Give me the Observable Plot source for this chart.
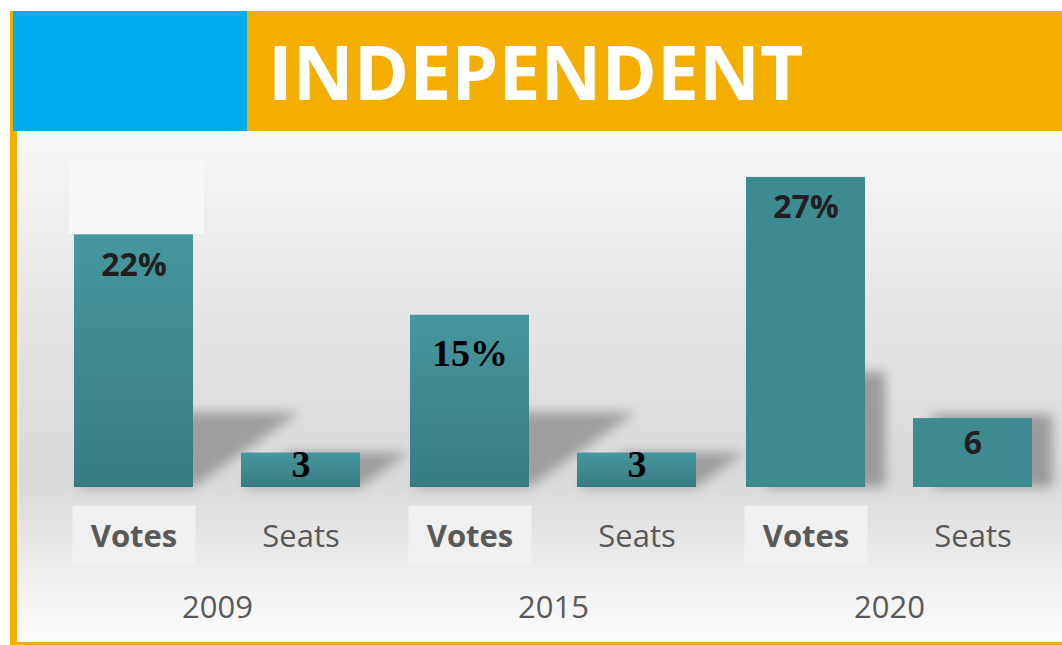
<!DOCTYPE html>
<html>
<head>
<meta charset="utf-8">
<script src="https://cdn.jsdelivr.net/npm/d3@7"></script>
<script src="https://cdn.jsdelivr.net/npm/@observablehq/plot@0.6"></script>
<style>
  html, body { margin: 0; padding: 0; background: #ffffff; }
  #wrap { position: relative; width: 1062px; height: 645px; overflow: hidden; font-family: 'Open Sans', sans-serif; }
  #hdrOrange { position: absolute; left: 10px; top: 11px; width: 1052px; height: 120px; background: #F4AE00; }
  #hdrBlue { position: absolute; left: 13px; top: 11px; width: 234px; height: 120px; background: #00AEEF; }
  #title { position: absolute; left: 268px; top: 11px; height: 120px; line-height: 120px; font-family: 'Open Sans', sans-serif; font-weight: 700; font-size: 75px; color: #ffffff; white-space: nowrap; }
  #panel { position: absolute; left: 10px; top: 131px; width: 1052px; height: 514px; box-sizing: border-box;
    border-left: 7px solid #F4AE00; border-bottom: 3px solid #F4AE00; box-shadow: inset 2px 0 0 #ffffff;
    background: linear-gradient(to bottom, #f8f8f8 0%, #e6e6e6 33%, #d9d9d9 68%, #fdfdfd 100%); }
  #stray { position: absolute; left: 69px; top: 161px; width: 135px; height: 90px; background: #f8f8f8; }
  #chart { position: absolute; left: 0; top: 131px; width: 1062px; }
</style>
</head>
<body>
<div id="wrap">
  <div id="hdrOrange"></div>
  <div id="hdrBlue"></div>
  <div id="title">INDEPENDENT</div>
  <div id="panel"></div>
  <div id="stray"></div>
  <div id="chart"></div>
</div>
<script>
// ---- data ----
const years = ["2009", "2015", "2020"];
const types = ["Votes", "Seats"];
const votes = [22, 15, 27];
const seats = [3, 3, 6];
const voteLabels = ["22%", "15%", "27%"];
const seatLabels = ["3", "3", "6"];

const data = years.flatMap((y, i) => [
  {year: y, type: "Votes", value: votes[i], label: voteLabels[i]},
  {year: y, type: "Seats", value: seats[i], label: seatLabels[i]}
]);

// label font groups (presentation only)
const serifKeys = new Set(["2015|Votes", "2009|Seats", "2015|Seats"]);
const isSerif = d => serifKeys.has(d.year + "|" + d.type);
const older = data.filter(d => d.year !== "2020");
const newer = data.filter(d => d.year === "2020");

const SKEW_FILL = "#8a8a8b", DROP_FILL = "#8a8a8c", VOTES_FILL = "#595958";

const plot = Plot.plot({
  width: 1062,
  height: 510,
  marginLeft: 49,
  marginRight: 5,
  marginTop: 0,
  marginBottom: 154,
  style: {background: "transparent", fontFamily: "'Open Sans', sans-serif", overflow: "visible"},
  fx: {domain: years, padding: 0, axis: null},
  x: {domain: types, paddingInner: 0.2857, paddingOuter: 0.1429, axis: null},
  y: {domain: [0, 31], axis: null},
  marks: [
    // shadows (decorative)
    Plot.barY(older, {fx: "year", x: "type", y1: 0, y2: d => Math.min(d.value, 6.5), fill: SKEW_FILL, fillOpacity: 0.75}),
    Plot.barY(newer, {fx: "year", x: "type", y1: 0, y2: d => Math.min(d.value + 0.3, 10), dx: 20, fill: DROP_FILL, fillOpacity: 0.8}),
    // bars
    Plot.barY(older, {fx: "year", x: "type", y: "value", fill: "url(#barGrad)"}),
    Plot.barY(newer, {fx: "year", x: "type", y: "value", fill: "#3d8a91"}),
    // value labels
    Plot.text(data.filter(d => d.type === "Votes" && !isSerif(d)), {fx: "year", x: "type", y: "value", text: "label", dy: 41, lineAnchor: "bottom", fontSize: 32, fontWeight: 700, fill: "#231f20"}),
    Plot.text(data.filter(d => d.type === "Seats" && !isSerif(d)), {fx: "year", x: "type", y: "value", text: "label", dy: 35, lineAnchor: "bottom", fontSize: 32, fontWeight: 700, fill: "#231f20"}),
    Plot.text(data.filter(d => d.type === "Votes" && isSerif(d)), {fx: "year", x: "type", y: "value", text: "label", dy: 51, lineAnchor: "bottom", fontSize: 38, fontWeight: 700, fontFamily: "'Liberation Serif', serif", fill: "#000000"}),
    Plot.text(data.filter(d => d.type === "Seats" && isSerif(d)), {fx: "year", x: "type", y: "value", text: "label", dy: 24, lineAnchor: "bottom", fontSize: 38, fontWeight: 700, fontFamily: "'Liberation Serif', serif", fill: "#000000"}),
    // category labels
    Plot.text(data.filter(d => d.type === "Votes"), {fx: "year", x: "type", text: "type", frameAnchor: "bottom", dy: 59, lineAnchor: "bottom", fontSize: 31, fontWeight: 700, fill: VOTES_FILL}),
    Plot.text(data.filter(d => d.type === "Seats"), {fx: "year", x: "type", text: "type", frameAnchor: "bottom", dy: 59, lineAnchor: "bottom", fontSize: 31, fill: "#595959"}),
    // year labels
    Plot.text(years, {fx: d => d, text: d => d, frameAnchor: "bottom", dy: 130, lineAnchor: "bottom", fontSize: 31, fill: "#595959"})
  ]
});

document.getElementById("chart").appendChild(plot);

// defs (gradient + blur) inside the plot's svg
const NS = "http://www.w3.org/2000/svg";
const svg = plot.tagName.toLowerCase() === "svg" ? plot : plot.querySelector("svg");
const defs = document.createElementNS(NS, "defs");
defs.innerHTML = `
  <linearGradient id="barGrad" x1="0" y1="0" x2="0" y2="1">
    <stop offset="0" stop-color="#46979f"/>
    <stop offset="1" stop-color="#387b82"/>
  </linearGradient>
  <filter id="blur" x="-60%" y="-60%" width="220%" height="220%">
    <feGaussianBlur stdDeviation="6"/>
  </filter>`;
svg.insertBefore(defs, svg.firstChild);

// blur + skew decorative shadows
svg.querySelectorAll(`g[fill="${SKEW_FILL}"]`).forEach(g => {
  g.setAttribute("filter", "url(#blur)");
  g.querySelectorAll("rect").forEach(r => {
    const base = (+r.getAttribute("y")) + (+r.getAttribute("height"));
    r.setAttribute("transform", `translate(0 ${base}) skewX(-55) translate(0 ${-base})`);
  });
});
svg.querySelectorAll(`g[fill="${DROP_FILL}"]`).forEach(g => g.setAttribute("filter", "url(#blur)"));

// light boxes behind the "Votes" labels
svg.querySelectorAll(`g[fill="${VOTES_FILL}"] text`).forEach(t => {
  const b = t.getBBox();
  const cx = b.x + b.width / 2;
  const r = document.createElementNS(NS, "rect");
  r.setAttribute("x", cx - 61.5);
  r.setAttribute("y", b.y - 8);
  r.setAttribute("width", 123);
  r.setAttribute("height", b.height + 16);
  r.setAttribute("fill", "#f0f0f0");
  const tr = t.getAttribute("transform");
  if (tr) r.setAttribute("transform", tr);
  t.parentNode.insertBefore(r, t);
});

// stray light box above the 2009 votes bar, ending at the bar's top
const yScale = plot.scale("y");
const top2009 = 131 + yScale.apply(votes[0]);
document.getElementById("stray").style.height = Math.max(0, top2009 - 161) + "px";
</script>
</body>
</html>
